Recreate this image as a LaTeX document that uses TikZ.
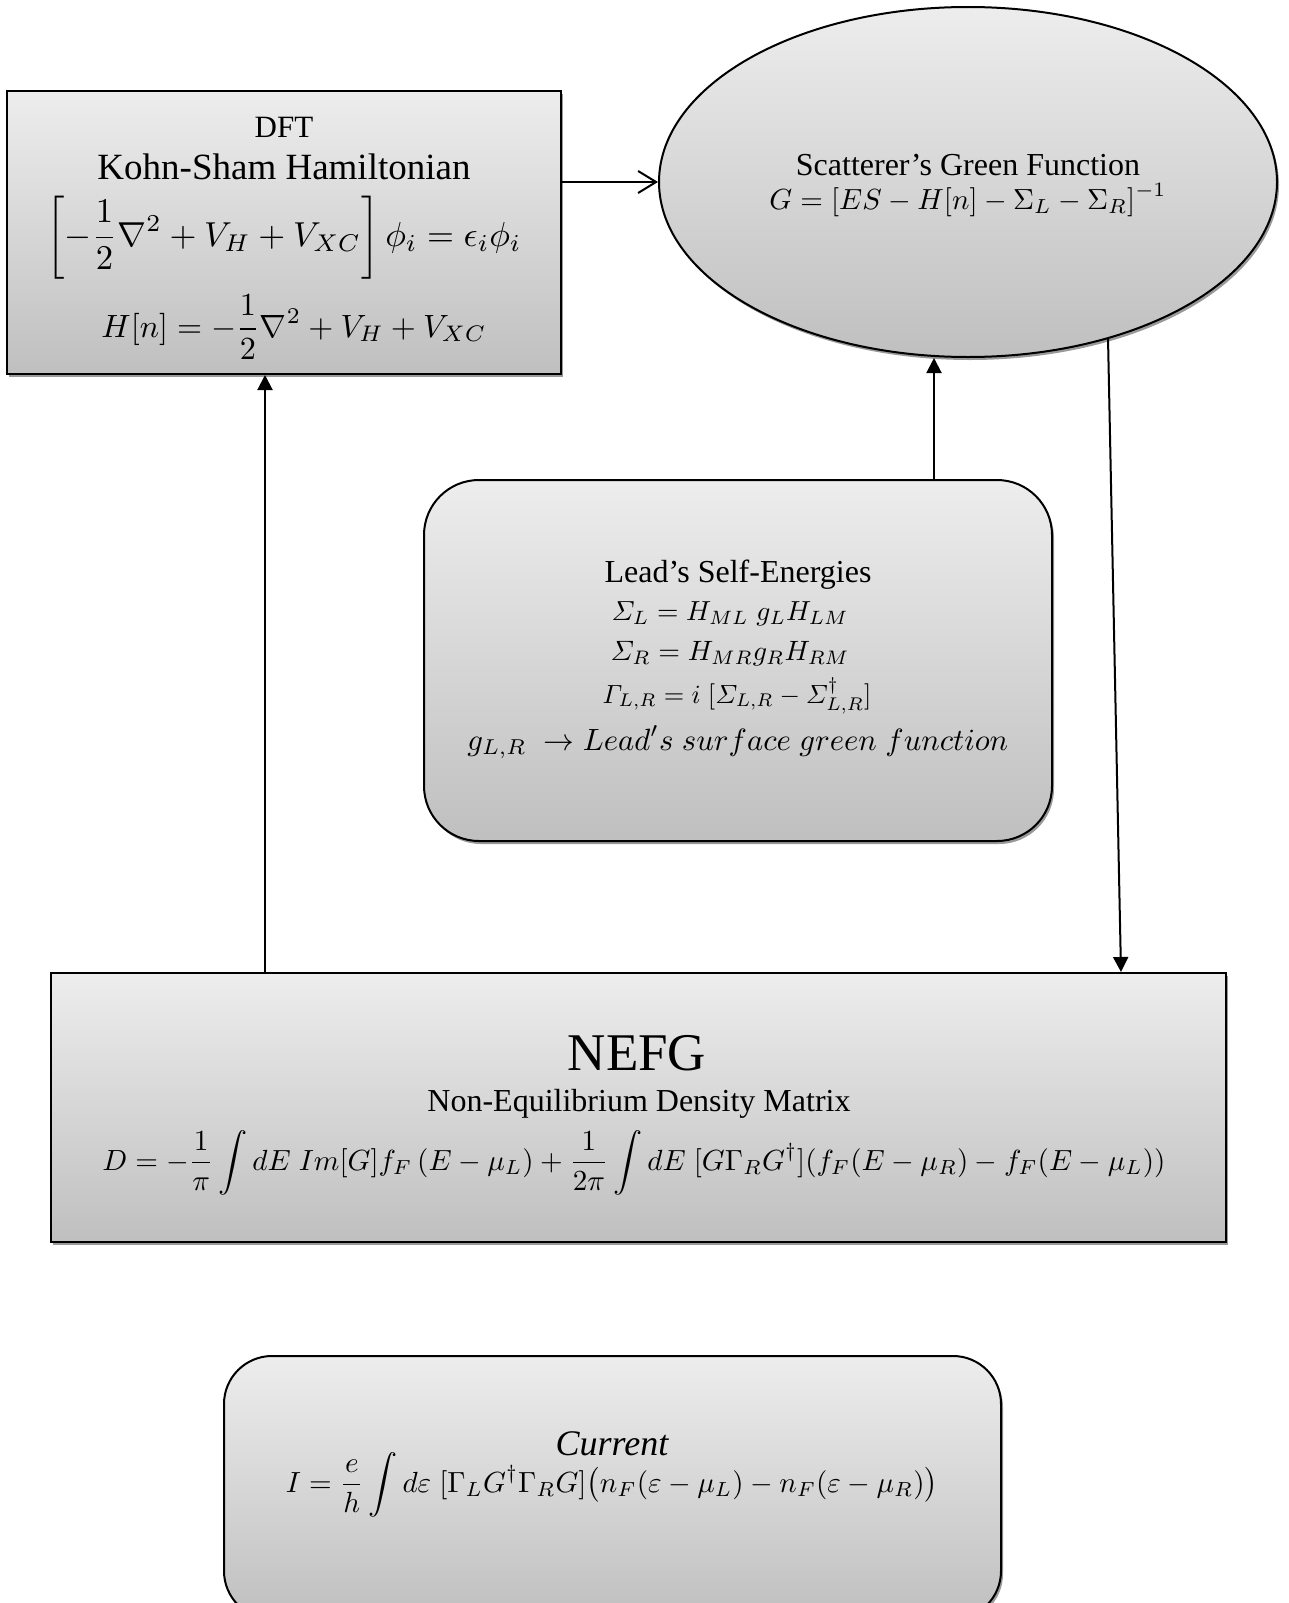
\RequirePackage{fix-cm}
\documentclass[tikz,border=0pt]{standalone}
\usepackage{amsmath}
\usepackage{graphicx}
\usepackage{fontspec}
\setmainfont{Liberation Serif}
\usetikzlibrary{shapes.geometric,shadows,arrows.meta}
\tikzset{
  boxfill/.style={draw=black, line width=2pt, top color=gray!14, bottom color=gray!50,
    drop shadow={shadow xshift=2pt, shadow yshift=-3pt, opacity=1, fill=black!40}},
  sqbox/.style={boxfill, rectangle, inner sep=0pt},
  rbox/.style={boxfill, rectangle, inner sep=0pt},
  ellbox/.style={boxfill, ellipse, inner sep=0pt},
  conn/.style={line width=2pt},
  tri/.style={conn, -{Triangle[length=15pt,width=15pt]}},
  barb/.style={conn, -{Straight Barb[length=18pt,width=22pt]}},
  txt/.style={anchor=base, inner sep=0pt},
}
\newcommand{\fs}[1]{\fontsize{#1}{#1}\selectfont}
\newcommand{\eqw}[2]{\resizebox{#1pt}{!}{$\displaystyle #2$}}
\begin{document}
\begin{tikzpicture}[x=1pt,y=-1pt]
\useasboundingbox (0,0) rectangle (1289,1603);

% boxes
\node[sqbox, minimum width=554pt, minimum height=283pt] (dft) at (284,232.5) {};
\node[ellbox, minimum width=618pt, minimum height=350pt] (sg) at (968,182) {};
\node[rbox, rounded corners=55pt, minimum width=628pt, minimum height=361pt] (lead) at (738,660.5) {};
\node[sqbox, minimum width=1175pt, minimum height=269pt] (nefg) at (638.5,1107.5) {};
\node[rbox, rounded corners=48pt, minimum width=777pt, minimum height=263pt] (cur) at (612.5,1487.5) {};

% DFT text
\node[txt] (dft1) at (284,137) {\fs{31}DFT};
\node[txt] (dft2) at (284,179) {\fs{37}Kohn-Sham Hamiltonian};
\node[txt] (dft3) at (284,246) {\eqw{475}{\left[-\frac{1}{2}\nabla^2+V_H+V_{XC}\right]\phi_i=\epsilon_i\phi_i}};
\node[txt] (dft4) at (294,337) {\eqw{385}{H[n]=-\frac{1}{2}\nabla^2+V_H+V_{XC}}};

% Scatterer text
\node[txt] (sg1) at (968,175) {\fs{32}Scatterer’s Green Function};
\node[txt] (sg2) at (968,209) {\eqw{397}{G=[ES-H[n]-\Sigma_L-\Sigma_R]^{-1}}};

% Lead text
\node[txt] (ld1) at (738,582) {\fs{32}Lead’s Self-Energies};
\node[txt] (ld2) at (730,620) {\eqw{237}{\varSigma_L=H_{ML}\;g_LH_{LM}}};
\node[txt] (ld3) at (730,660) {\eqw{239}{\varSigma_R=H_{MR}g_RH_{RM}}};
\node[txt] (ld4) at (737,703) {\eqw{269}{\varGamma_{L,R}=i\;[\varSigma_{L,R}-\varSigma_{L,R}^{\dagger}]}};
\node[txt] (ld5) at (738,750) {\eqw{541}{g_{L,R}\;\rightarrow Lead^{\prime}s\;surface\;green\;function}};

% NEFG text
\node[txt] (nf1) at (637,1070) {\fs{53}NEFG};
\node[txt] (nf2) at (639,1111) {\fs{32}Non-Equilibrium Density Matrix};
\node[txt] (nf3) at (634,1170) {\eqw{1063}{D=-\frac{1}{\pi}\int dE\;Im[G]f_F\,(E-\mu_L)+\frac{1}{2\pi}\int dE\;[G\Gamma_RG^{\dagger}](f_F(E-\mu_R)-f_F(E-\mu_L))}};

% Current text
\node[txt] (cu1) at (612,1455) {\fs{36}\itshape Current};
\node[txt] (cu2) at (612,1492) {\eqw{652}{I=\frac{e}{h}\int d\varepsilon\;[\Gamma_LG^{\dagger}\Gamma_RG]\big(n_F(\varepsilon-\mu_L)-n_F(\varepsilon-\mu_R)\big)}};

% connectors
\coordinate (c1) at (934,0);
\coordinate (e1) at (1108,338);
\coordinate (e2) at (1121,0);
\coordinate (c3) at (265,0);
\draw[barb] (dft.east |- sg.west) -- (sg.west);
\draw[tri] (c1 |- lead.north) -- (c1 |- sg.south);
\draw[tri] (e1) -- (e2 |- nefg.north);
\draw[tri] (c3 |- nefg.north) -- (c3 |- dft.south);
\end{tikzpicture}
\end{document}
